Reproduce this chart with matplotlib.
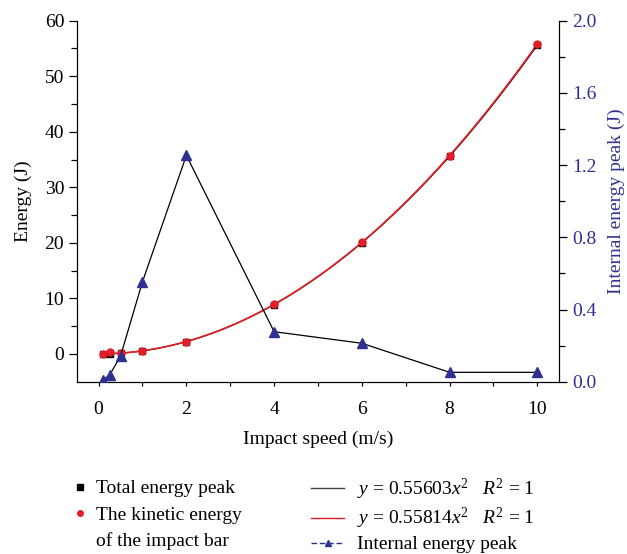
import numpy as np
import matplotlib.pyplot as plt
from matplotlib.lines import Line2D

plt.rcParams['font.family'] = ['Liberation Serif', 'DejaVu Serif']
plt.rcParams['mathtext.fontset'] = 'custom'
plt.rcParams['mathtext.rm'] = 'Liberation Serif'
plt.rcParams['mathtext.it'] = 'Liberation Serif:italic'

# Impact speeds (m/s)
speed = [0.1, 0.25, 0.5, 1, 2, 4, 6, 8, 10]
# Peak energies (J)
total_energy = [0.006, 0.035, 0.139, 0.556, 2.22, 8.9, 20.0, 35.6, 55.6]
kinetic_energy = [0.006, 0.35, 0.14, 0.558, 2.23, 8.93, 20.1, 35.7, 55.8]
internal_energy = [0.01, 0.037, 0.142, 0.554, 1.254, 0.277, 0.213, 0.052, 0.052]

# Quadratic fit coefficients
k_total = 0.55603
k_kinetic = 0.55814

RED = '#e41e26'
BLUE = '#2e3192'
FS = 14

fig = plt.figure(figsize=(6.27, 5.54), dpi=100)
ax = fig.add_axes([0.1223, 0.311, 0.7697, 0.6516])
ax2 = ax.twinx()

xs = np.linspace(min(speed), max(speed), 300)
ax.plot(xs, k_total * xs ** 2, color='black', lw=0.9, zorder=2)
ax.plot(xs, k_kinetic * xs ** 2, color=RED, lw=1.2, zorder=3)
ax.plot(speed, total_energy, 's', color='black', ms=5, zorder=4)
ax.plot(speed, kinetic_energy, 'o', color=RED, ms=5, zorder=5)

ax2.plot(speed, internal_energy, color='black', lw=0.9, zorder=2)
ax2.plot(speed, internal_energy, '^', color=BLUE, ms=7, zorder=3)

ax.set_xlim(-0.5, 10.5)
ax.set_ylim(-5, 60)
ax2.set_ylim(0, 2.0)

ax.set_xticks([0, 2, 4, 6, 8, 10])
ax.set_xticks([1, 3, 5, 7, 9], minor=True)
ax.set_yticks(np.arange(0, 61, 10))
ax.set_yticks(np.arange(5, 60, 10), minor=True)
ax2.set_yticks(np.arange(0, 2.01, 0.4))
ax2.set_yticks(np.arange(0.2, 2.0, 0.4), minor=True)
ax2.set_yticklabels(['0.0', '0.4', '0.8', '1.2', '1.6', '2.0'])

for a in (ax, ax2):
    a.spines['top'].set_visible(False)
    a.tick_params(which='major', direction='out', length=6, width=0.9, labelsize=FS, pad=3)
    a.tick_params(which='minor', direction='out', length=4, width=0.9)
ax.tick_params(axis='x', which='both', length=3, pad=11)
ax2.tick_params(axis='y', colors='black', labelcolor=BLUE)

ax.set_xlabel('Impact speed (m/s)', fontsize=FS, labelpad=9)
ax.set_ylabel('Energy (J)', fontsize=FS, labelpad=9)
ax2.set_ylabel('Internal energy peak (J)', fontsize=FS, color=BLUE, labelpad=8)

# Legend, left column
h1 = [Line2D([], [], ls='none', marker='s', color='black', ms=4),
      Line2D([], [], ls='none', marker='o', color=RED, ms=4),
      Line2D([], [], ls='none')]
l1 = ['Total energy peak', 'The kinetic energy', 'of the impact bar']
fig.legend(h1, l1, loc='upper left', bbox_to_anchor=(0.1216, 0.134), frameon=False,
           fontsize=FS, handlelength=0.4, handletextpad=0.6, labelspacing=0.45,
           borderaxespad=0, borderpad=0)

# Legend, right column
h2 = [Line2D([], [], color='#444444', lw=1),
      Line2D([], [], color=RED, lw=1),
      Line2D([], [], color=BLUE, lw=1, ls=(0, (4, 2)), marker='^', ms=5)]
l2 = [r'$y$ = 0.55603$x^2$   $R^2$ = 1',
      r'$y$ = 0.55814$x^2$   $R^2$ = 1',
      'Internal energy peak']
fig.legend(h2, l2, loc='upper left', bbox_to_anchor=(0.496, 0.1394), frameon=False,
           fontsize=FS, handlelength=1.7, handletextpad=0.67, labelspacing=0.22,
           borderaxespad=0, borderpad=0)

fig.savefig('out.png', dpi=100)
